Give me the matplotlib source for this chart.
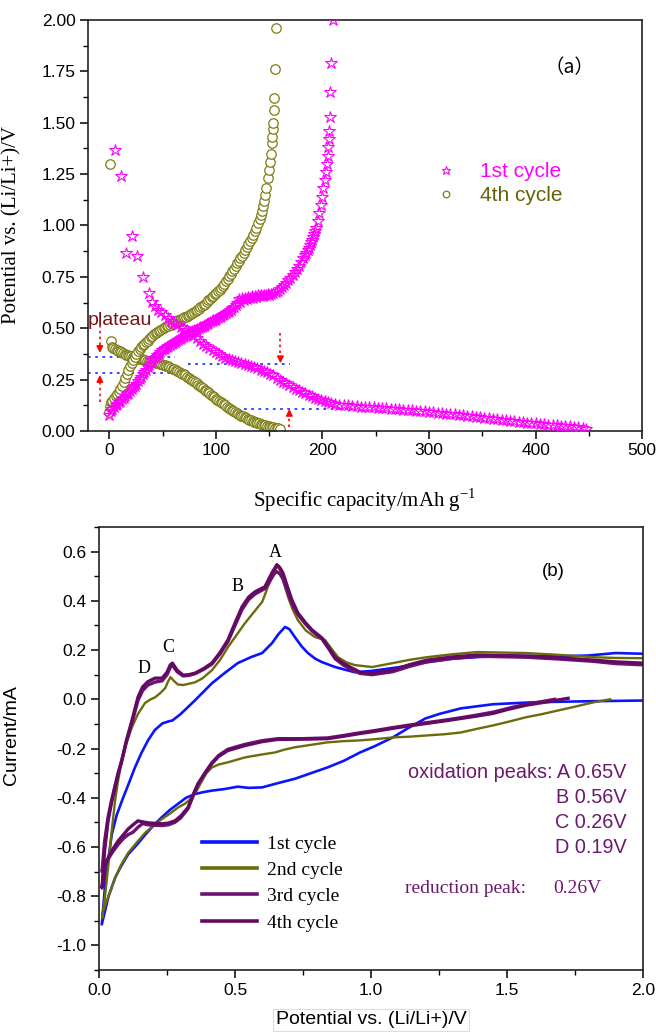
import numpy as np
import matplotlib
matplotlib.use("Agg")
import matplotlib.pyplot as plt
from matplotlib.ticker import MultipleLocator

plt.rcParams['font.family'] = ['Liberation Sans', 'DejaVu Sans']
SERIF = ['Liberation Serif', 'DejaVu Serif']

# ---------------- (a) charge/discharge profiles ----------------
cap1_dis = [5.6, 11, 16, 21.4, 26, 32, 37, 40, 43, 46, 49, 52, 55, 58, 61, 64, 67, 70, 73, 76,
            79, 82, 85, 88, 91, 94, 97, 100, 103, 106, 109, 112, 115, 118, 121, 124, 127, 130,
            133, 136, 139, 142, 145, 148, 151, 154, 157, 160, 163, 166, 169, 172, 175, 178, 181,
            184, 187, 190, 193, 196, 199, 202, 205, 208, 212, 216, 220, 224, 228, 232, 236, 240,
            244, 248, 252, 256, 260, 264, 268, 272, 276, 280, 284, 288, 292, 296, 300, 304, 308,
            312, 316, 320, 324, 328, 332, 336, 340, 344, 348, 352, 356, 360, 364, 368, 372, 376,
            380, 384, 388, 392, 396, 400, 404, 408, 412, 416, 420, 424, 428, 432, 436, 440, 444, 447]
v1_dis = [1.367, 1.24, 0.866, 0.95, 0.85, 0.75, 0.67, 0.63, 0.61, 0.59, 0.58, 0.565, 0.55, 0.535,
          0.525, 0.515, 0.505, 0.50, 0.49, 0.475, 0.46, 0.45, 0.44, 0.425, 0.415, 0.405, 0.395,
          0.385, 0.375, 0.365, 0.357, 0.35, 0.345, 0.34, 0.335, 0.33, 0.325, 0.32, 0.315, 0.31,
          0.305, 0.298, 0.29, 0.285, 0.278, 0.27, 0.26, 0.25, 0.24, 0.235, 0.225, 0.215, 0.205,
          0.198, 0.19, 0.183, 0.176, 0.168, 0.161, 0.155, 0.15, 0.145, 0.14, 0.135, 0.13, 0.128,
          0.126, 0.124, 0.122, 0.12, 0.119, 0.117, 0.116, 0.115, 0.113, 0.112, 0.11, 0.109, 0.108,
          0.106, 0.104, 0.103, 0.101, 0.099, 0.097, 0.095, 0.093, 0.091, 0.089, 0.087, 0.085,
          0.083, 0.081, 0.079, 0.077, 0.075, 0.073, 0.07, 0.067, 0.064, 0.061, 0.058, 0.056,
          0.053, 0.051, 0.049, 0.047, 0.045, 0.043, 0.041, 0.039, 0.037, 0.035, 0.033, 0.031,
          0.030, 0.028, 0.026, 0.024, 0.022, 0.02, 0.017, 0.014, 0.012]

cap1_chg = [0, 1.5, 3, 4.5, 6, 7.5, 9, 10.5, 12, 13.5, 15, 16.5, 18, 19.5, 21, 22.5, 24, 25.5, 27,
            28.5, 30, 31.5, 33, 34.5, 36, 37.5, 39, 40.5, 42, 43.5, 45, 46.5, 48, 49.5, 51, 52.5,
            54, 55.5, 57, 58.5, 60, 61.5, 63, 64.5, 66, 67.5, 69, 70.5, 72, 73.5, 75, 76.5, 78,
            79.5, 81, 82.5, 84, 85.5, 87, 88.5, 90, 91.5, 93, 94.5, 96, 97.5, 99, 100.5, 102,
            103.5, 105, 106.5, 108, 109.5, 111, 112.5, 114, 115.5, 117, 118.5, 120, 121.5, 123,
            124.5, 126, 127.5, 129, 130.5, 132, 133.5, 135, 136.5, 138, 139.5, 141, 142.5, 144,
            145.5, 147, 148.5, 150, 152, 154, 156, 158, 160, 162, 164, 166, 168, 170, 172, 174,
            176, 178, 180, 182, 184, 185, 186, 187, 188, 189, 190, 191, 192, 193, 194, 195.5, 197,
            198.5, 200, 201, 202, 203, 204, 205, 205.5, 206, 206.5, 207, 207.5, 208, 210]
v1_chg = [0.08, 0.095, 0.108, 0.118, 0.125, 0.132, 0.14, 0.147, 0.155, 0.162, 0.17, 0.178, 0.185,
          0.193, 0.202, 0.212, 0.22, 0.231, 0.242, 0.254, 0.265, 0.276, 0.288, 0.299, 0.31,
          0.321, 0.333, 0.344, 0.355, 0.362, 0.37, 0.377, 0.385, 0.392, 0.398, 0.403, 0.408,
          0.413, 0.418, 0.423, 0.428, 0.433, 0.438, 0.443, 0.448, 0.453, 0.458, 0.463, 0.468,
          0.473, 0.478, 0.483, 0.487, 0.489, 0.493, 0.498, 0.502, 0.504, 0.508, 0.513, 0.517,
          0.519, 0.523, 0.528, 0.533, 0.538, 0.541, 0.544, 0.549, 0.554, 0.558, 0.563, 0.568,
          0.573, 0.578, 0.583, 0.59, 0.598, 0.605, 0.615, 0.625, 0.64, 0.63, 0.645, 0.635, 0.648,
          0.64, 0.652, 0.645, 0.655, 0.648, 0.658, 0.652, 0.66, 0.655, 0.662, 0.658, 0.663,
          0.66, 0.665, 0.663, 0.667, 0.67, 0.676, 0.682, 0.69, 0.70, 0.71, 0.72, 0.733, 0.746,
          0.76, 0.773, 0.788, 0.805, 0.822, 0.84, 0.855, 0.868, 0.88, 0.892, 0.905, 0.918, 0.93,
          0.945, 0.96, 0.975, 0.99, 1.02, 1.06, 1.10, 1.14, 1.18, 1.22, 1.26, 1.30, 1.34, 1.38,
          1.42, 1.46, 1.53, 1.65, 1.79, 2.0]

cap4_dis = [1, 2, 3, 4, 5.5, 7, 8.5, 10, 11.5, 13, 14.5, 16, 17.5, 19, 20.5, 22, 23.5, 25, 26.5,
            28, 29.5, 31, 32.5, 34, 35.5, 37, 38.5, 40, 41.5, 43, 44.5, 46, 47.5, 49, 50.5, 52,
            53.5, 55, 56.5, 58, 59.5, 61, 62.5, 64, 65.5, 67, 68.5, 70, 71.5, 73, 74.5, 76, 77.5,
            79, 80.5, 82, 83.5, 85, 86.5, 88, 89.5, 91, 92.5, 94, 95.5, 97, 98.5, 100, 101.5, 103,
            104.5, 106, 107.5, 109, 110.5, 112, 113.5, 115, 116.5, 118, 119.5, 121, 122.5, 124,
            125.5, 127, 128.5, 130, 131.5, 133, 134.5, 136, 137.5, 139, 140.5, 142, 143.5, 145,
            146.5, 148, 149.5, 151, 152.5, 154, 155.5, 157, 158.5, 160]
v4_dis = [1.30, 0.44, 0.41, 0.403, 0.398, 0.395, 0.391, 0.388, 0.384, 0.38, 0.376, 0.372, 0.369,
          0.367, 0.364, 0.361, 0.359, 0.357, 0.355, 0.352, 0.35, 0.348, 0.346, 0.344, 0.342, 0.34,
          0.338, 0.337, 0.335, 0.334, 0.332, 0.33, 0.328, 0.325, 0.322, 0.32, 0.318, 0.315,
          0.311, 0.308, 0.304, 0.30, 0.295, 0.29, 0.286, 0.282, 0.279, 0.275, 0.27, 0.265, 0.26,
          0.255, 0.249, 0.243, 0.238, 0.232, 0.226, 0.22, 0.214, 0.208, 0.201, 0.195, 0.189,
          0.183, 0.177, 0.17, 0.164, 0.158, 0.152, 0.147, 0.141, 0.135, 0.13, 0.124, 0.118, 0.113,
          0.108, 0.103, 0.098, 0.094, 0.089, 0.085, 0.08, 0.075, 0.071, 0.067, 0.063, 0.059,
          0.055, 0.052, 0.049, 0.046, 0.043, 0.04, 0.037, 0.034, 0.031, 0.029, 0.027, 0.025,
          0.023, 0.021, 0.019, 0.018, 0.016, 0.015, 0.013, 0.012]

cap4_chg = [0, 1, 2, 3, 4.5, 6, 7.5, 9, 10.5, 12, 13.5, 15, 16.5, 18, 19.5, 21, 22.5, 24, 25.5, 27,
            28.5, 30, 31.5, 33, 34.5, 36, 37.5, 39, 40.5, 42, 43.5, 45, 46.5, 48, 49.5, 51, 52.5,
            54, 55.5, 57, 58.5, 60, 61.5, 63, 64.5, 66, 67.5, 69, 70.5, 72, 73.5, 75, 76.5, 78,
            79.5, 81, 82.5, 84, 85.5, 87, 88.5, 90, 91.5, 93, 94.5, 96, 97.5, 99, 100.5, 102,
            103.5, 105, 106.5, 108, 109.5, 111, 112.5, 114, 115.5, 117, 118.5, 120, 121.5, 123,
            124.5, 126, 127.5, 129, 130.5, 132, 133.5, 135, 136.5, 138, 139.5, 141, 142, 143, 144,
            145, 146, 147, 148.5, 149.5, 150.5, 151.5, 152.5, 153, 153.5, 154, 154.5, 155, 155.5,
            156]
v4_chg = [0.09, 0.12, 0.14, 0.148, 0.16, 0.17, 0.181, 0.192, 0.205, 0.22, 0.238, 0.257, 0.276,
          0.295, 0.314, 0.33, 0.345, 0.36, 0.375, 0.388, 0.399, 0.41, 0.418, 0.425, 0.433, 0.44,
          0.448, 0.455, 0.463, 0.47, 0.475, 0.48, 0.485, 0.49, 0.495, 0.50, 0.505, 0.51, 0.513,
          0.515, 0.52, 0.525, 0.53, 0.535, 0.538, 0.54, 0.545, 0.55, 0.553, 0.555, 0.56, 0.565,
          0.57, 0.575, 0.58, 0.585, 0.59, 0.595, 0.602, 0.61, 0.615, 0.62, 0.628, 0.635, 0.643,
          0.65, 0.658, 0.665, 0.673, 0.68, 0.688, 0.695, 0.705, 0.715, 0.728, 0.74, 0.753, 0.765,
          0.778, 0.79, 0.803, 0.815, 0.828, 0.84, 0.853, 0.865, 0.88, 0.895, 0.91, 0.925, 0.94,
          0.955, 0.972, 0.99, 1.01, 1.03, 1.05, 1.07, 1.095, 1.12, 1.15, 1.18, 1.23, 1.27, 1.31,
          1.35, 1.40, 1.43, 1.47, 1.50, 1.56, 1.62, 1.76, 1.96]

# plateau guide lines: y, x_start, x_end
guide_y = [0.36, 0.28, 0.326, 0.107]
guide_x0 = [-20, -20, 74, 126]
guide_x1 = [62, 62, 170, 220]
# red arrows: x, tail y, head y
arrow_x = [-8.8, -8.8, 160.6, 169]
arrow_tail = [0.515, 0.14, 0.477, 0.02]
arrow_head = [0.38, 0.272, 0.33, 0.107]

# ---------------- (b) cyclic voltammetry ----------------
cv1_v = [2.0, 1.8, 1.6, 1.45, 1.33, 1.25, 1.2, 1.14, 1.08, 1.015, 0.96, 0.9, 0.84, 0.78, 0.72, 0.66,
         0.6, 0.55, 0.51, 0.46, 0.415, 0.38, 0.353, 0.32, 0.29, 0.26, 0.23, 0.2, 0.17, 0.14, 0.107,
         0.08, 0.059, 0.035, 0.01,
         0.025, 0.047, 0.065, 0.085, 0.11, 0.132, 0.155, 0.18, 0.205, 0.233, 0.255, 0.27, 0.3,
         0.353, 0.415, 0.46, 0.51, 0.56, 0.6, 0.636, 0.66, 0.684, 0.70, 0.72, 0.745, 0.768, 0.795,
         0.82, 0.868, 0.94, 1.0, 1.1, 1.2, 1.3, 1.4, 1.5, 1.6, 1.7, 1.8, 1.9, 2.0]
cv1_i = [-0.005, -0.008, -0.012, -0.02, -0.037, -0.06, -0.078, -0.115, -0.155, -0.19, -0.216,
         -0.25, -0.277, -0.30, -0.323, -0.34, -0.358, -0.36, -0.355, -0.365, -0.371, -0.378,
         -0.385, -0.40, -0.425, -0.45, -0.48, -0.513, -0.55, -0.59, -0.63, -0.68, -0.725, -0.80,
         -0.915,
         -0.72, -0.548, -0.47, -0.41, -0.34, -0.277, -0.22, -0.167, -0.125, -0.098, -0.09, -0.086,
         -0.06, -0.004, 0.065, 0.105, 0.147, 0.172, 0.188, 0.228, 0.265, 0.294, 0.285, 0.253,
         0.215, 0.188, 0.165, 0.151, 0.131, 0.11, 0.115, 0.13, 0.15, 0.165, 0.172, 0.175, 0.176,
         0.175, 0.178, 0.188, 0.185]

cv2_v = [1.88, 1.82, 1.75, 1.69, 1.63, 1.57, 1.51, 1.45, 1.39, 1.33, 1.27, 1.205, 1.14, 1.08, 1.015,
         0.96, 0.9, 0.84, 0.78, 0.72, 0.68, 0.647, 0.6, 0.537, 0.474, 0.44, 0.415, 0.395, 0.379,
         0.36, 0.342, 0.315, 0.29, 0.26, 0.232, 0.2, 0.169, 0.14, 0.107, 0.08, 0.059, 0.035,
         0.015, 0.011,
         0.022, 0.033, 0.045, 0.059, 0.07, 0.084, 0.1, 0.121, 0.143, 0.169, 0.19, 0.206, 0.225,
         0.243, 0.255, 0.263, 0.275, 0.29, 0.31, 0.353, 0.38, 0.415, 0.445, 0.474, 0.505, 0.537,
         0.57, 0.6, 0.621, 0.64, 0.658, 0.675, 0.695, 0.71, 0.731, 0.76, 0.794, 0.831, 0.855,
         0.879, 0.91, 0.941, 1.004, 1.08, 1.14, 1.205, 1.3, 1.39, 1.48, 1.57, 1.7, 1.82, 1.9, 2.0]
cv2_i = [0.0, -0.012, -0.03, -0.045, -0.06, -0.073, -0.09, -0.106, -0.12, -0.135, -0.142, -0.147,
         -0.152, -0.155, -0.162, -0.167, -0.17, -0.175, -0.185, -0.195, -0.205, -0.216, -0.224,
         -0.236, -0.256, -0.265, -0.277, -0.30, -0.331, -0.37, -0.40, -0.425, -0.44, -0.465,
         -0.486, -0.513, -0.543, -0.58, -0.624, -0.675, -0.727, -0.80, -0.86, -0.89,
         -0.80, -0.686, -0.55, -0.412, -0.33, -0.249, -0.18, -0.113, -0.06, -0.015, 0.0, 0.008,
         0.025, 0.045, 0.075, 0.09, 0.075, 0.06, 0.058, 0.069, 0.085, 0.118, 0.16, 0.212, 0.26,
         0.31, 0.355, 0.396, 0.457, 0.51, 0.543, 0.49, 0.416, 0.37, 0.322, 0.28, 0.253, 0.241,
         0.205, 0.171, 0.15, 0.139, 0.131, 0.147, 0.16, 0.171, 0.183, 0.192, 0.19, 0.188, 0.18,
         0.171, 0.168, 0.167]

cv3_v = [1.676, 1.6, 1.53, 1.45, 1.39, 1.33, 1.27, 1.205, 1.14, 1.08, 1.015, 0.96, 0.9, 0.84, 0.75,
         0.658, 0.6, 0.537, 0.474, 0.44, 0.415, 0.39, 0.364, 0.345, 0.327, 0.3, 0.279, 0.255,
         0.232, 0.205, 0.18, 0.16, 0.143, 0.125, 0.107, 0.09, 0.07, 0.05, 0.033, 0.02, 0.011,
         0.02, 0.033, 0.046, 0.059, 0.07, 0.084, 0.1, 0.121, 0.143, 0.16, 0.18, 0.206, 0.232, 0.25,
         0.262, 0.27, 0.287, 0.309, 0.33, 0.353, 0.385, 0.415, 0.445, 0.474, 0.5, 0.526, 0.55,
         0.574, 0.61, 0.625, 0.636, 0.65, 0.665, 0.676, 0.692, 0.709, 0.731, 0.76, 0.783, 0.82,
         0.845, 0.868, 0.9, 0.93, 0.96, 1.004, 1.08, 1.14, 1.205, 1.3, 1.39, 1.48, 1.57, 1.7, 1.82,
         1.9, 2.0]
cv3_i = [0.0, -0.015, -0.03, -0.052, -0.064, -0.075, -0.085, -0.095, -0.105, -0.115, -0.127, -0.136,
         -0.147, -0.157, -0.16, -0.16, -0.168, -0.183, -0.203, -0.228, -0.258, -0.298, -0.345,
         -0.395, -0.445, -0.482, -0.50, -0.51, -0.513, -0.512, -0.51, -0.505, -0.52, -0.54, -0.55,
         -0.565, -0.59, -0.62, -0.65, -0.675, -0.70,
         -0.58, -0.48, -0.41, -0.35, -0.30, -0.245, -0.175, -0.095, -0.005, 0.035, 0.058, 0.07,
         0.075, 0.1, 0.13, 0.138, 0.112, 0.095, 0.097, 0.104, 0.122, 0.143, 0.185, 0.235, 0.3,
         0.365, 0.405, 0.428, 0.45, 0.475, 0.495, 0.52, 0.51, 0.49, 0.44, 0.39, 0.345, 0.305,
         0.278, 0.245, 0.205, 0.165, 0.138, 0.12, 0.105, 0.1, 0.112, 0.133, 0.152, 0.166, 0.175,
         0.173, 0.171, 0.163, 0.154, 0.145, 0.14]

cv4_v = [1.725, 1.65, 1.57, 1.5, 1.45, 1.39, 1.33, 1.27, 1.205, 1.14, 1.08, 1.015, 0.96, 0.9, 0.84,
         0.75, 0.658, 0.6, 0.537, 0.474, 0.44, 0.415, 0.39, 0.364, 0.345, 0.327, 0.3, 0.279, 0.255,
         0.232, 0.205, 0.18, 0.16, 0.143, 0.125, 0.107, 0.09, 0.07, 0.05, 0.033, 0.02, 0.011,
         0.02, 0.033, 0.046, 0.059, 0.07, 0.084, 0.1, 0.121, 0.143, 0.16, 0.18, 0.206, 0.232, 0.25,
         0.262, 0.27, 0.287, 0.309, 0.33, 0.353, 0.385, 0.415, 0.445, 0.474, 0.5, 0.526, 0.55,
         0.574, 0.61, 0.625, 0.636, 0.654, 0.665, 0.676, 0.692, 0.709, 0.731, 0.76, 0.783, 0.82,
         0.845, 0.868, 0.9, 0.93, 0.96, 1.004, 1.08, 1.14, 1.205, 1.3, 1.39, 1.48, 1.57, 1.7, 1.82,
         1.9, 2.0]
cv4_i = [0.004, -0.01, -0.024, -0.042, -0.057, -0.068, -0.078, -0.088, -0.098, -0.108, -0.118,
         -0.13, -0.139, -0.15, -0.16, -0.162, -0.163, -0.172, -0.188, -0.208, -0.232, -0.261,
         -0.30, -0.343, -0.39, -0.44, -0.475, -0.494, -0.503, -0.506, -0.504, -0.502, -0.498,
         -0.494, -0.51, -0.527, -0.55, -0.576, -0.61, -0.645, -0.69, -0.767,
         -0.62, -0.494, -0.42, -0.358, -0.305, -0.249, -0.17, -0.086, 0.008, 0.05, 0.072, 0.086,
         0.086, 0.11, 0.14, 0.147, 0.118, 0.098, 0.1, 0.106, 0.125, 0.147, 0.19, 0.241, 0.31,
         0.376, 0.415, 0.437, 0.457, 0.49, 0.514, 0.547, 0.535, 0.514, 0.46, 0.404, 0.351, 0.31,
         0.282, 0.249, 0.21, 0.171, 0.145, 0.127, 0.11, 0.106, 0.118, 0.14, 0.159, 0.172, 0.18,
         0.178, 0.176, 0.168, 0.159, 0.152, 0.147]

peak_labels = ['A', 'B', 'C', 'D']
peak_x = [0.647, 0.511, 0.254, 0.166]
peak_y = [0.596, 0.457, 0.212, 0.127]
ox_lines = ['oxidation peaks: A 0.65V', 'B 0.56V', 'C 0.26V', 'D 0.19V']

MAG = '#ff00ff'
OLIVE = '#7d7d12'
OLIVE_TXT = '#626208'
BLUE = '#0a14ff'
OLIVE_LN = '#6b6b0a'
PURP3 = '#6e1470'
PURP4 = '#640a64'
PURP_TXT = '#6a1a6a'

fig = plt.figure(figsize=(6.56, 10.35), dpi=100)
ax1 = fig.add_axes([0.134, 0.5836, 0.845, 0.3971])
ax2 = fig.add_axes([0.151, 0.0628, 0.829, 0.4280])

# ---- panel (a)
for gy, gx0, gx1 in zip(guide_y, guide_x0, guide_x1):
    ax1.plot([gx0, gx1], [gy, gy], ls=(0, (1.5, 2.5)), color='#2a3cff', lw=1.3, zorder=1)

ax1.plot(cap1_dis, v1_dis, ls='none', marker='*', ms=9, mfc='none', mec=MAG, mew=0.8,
         label='1st cycle', zorder=3)
ax1.plot(cap1_chg, v1_chg, ls='none', marker='*', ms=9, mfc='none', mec=MAG, mew=0.8, zorder=3)
ax1.plot(cap4_dis, v4_dis, ls='none', marker='o', ms=6.8, mfc='white', mec=OLIVE, mew=0.9,
         label='4th cycle', zorder=2)
ax1.plot(cap4_chg, v4_chg, ls='none', marker='o', ms=6.8, mfc='white', mec=OLIVE, mew=0.9, zorder=2)

for axx, yt, yh in zip(arrow_x, arrow_tail, arrow_head):
    d = -0.03 if yh < yt else 0.03
    ax1.plot([axx, axx], [yt, yh - d], ls=(0, (1.5, 2.0)), color='red', lw=1.2, zorder=4)
    ax1.annotate('', xy=(axx, yh), xytext=(axx, yh - d),
                 arrowprops=dict(arrowstyle='-|>', color='red', lw=1.0, mutation_scale=10,
                                 shrinkA=0, shrinkB=0), zorder=4)

ax1.text(-20, 0.54, 'plateau', color='#7a1414', fontsize=14, va='center', ha='left')
ax1.text(432, 1.77, '（a）', fontsize=14, ha='center', va='center',
         family=['Noto Sans CJK SC', 'DejaVu Sans'])

ax1.set_xlim(-20, 500)
ax1.set_ylim(0, 2.0)
ax1.xaxis.set_major_locator(MultipleLocator(100))
ax1.xaxis.set_minor_locator(MultipleLocator(50))
ax1.yaxis.set_major_locator(MultipleLocator(0.25))
ax1.yaxis.set_minor_locator(MultipleLocator(0.125))
ax1.set_yticks(np.arange(0, 2.01, 0.25))
ax1.set_yticklabels([f'{v:.2f}' for v in np.arange(0, 2.01, 0.25)])
ax1.set_xlabel('Specific capacity/mAh g$^{\\mathregular{-1}}$', family=SERIF, fontsize=15,
               labelpad=20)
ax1.set_ylabel('Potential vs. (Li/Li+)/V', family=SERIF, fontsize=15)
ax1.yaxis.set_label_coords(-0.12, 0.5)

leg1 = ax1.legend(loc='upper left', bbox_to_anchor=(0.59, 0.70), frameon=False, fontsize=15,
                  markerscale=0.7, handlelength=1.2, handletextpad=1.0, labelspacing=0.25,
                  labelcolor=[MAG, OLIVE_TXT])

# ---- panel (b)
ax2.plot(cv1_v, cv1_i, color=BLUE, lw=1.9, label='1st cycle')
ax2.plot(cv2_v, cv2_i, color=OLIVE_LN, lw=1.7, label='2nd cycle')
ax2.plot(cv3_v, cv3_i, color=PURP3, lw=2.4, label='3rd cycle')
ax2.plot(cv4_v, cv4_i, color=PURP4, lw=2.4, label='4th cycle')

for lab, px, py in zip(peak_labels, peak_x, peak_y):
    ax2.text(px, py, lab, family=SERIF, fontsize=13, ha='center', va='center')

ax2.text(1.67, 0.52, '(b)', fontsize=13.5, ha='center', va='center')
ax2.text(1.94, -0.298, ox_lines[0], color=PURP_TXT, fontsize=14.3, ha='right', va='center')
for k, line in enumerate(ox_lines[1:]):
    ax2.text(1.94, -0.400 - 0.102 * k, line, color=PURP_TXT, fontsize=14.3, ha='right',
             va='center')
ax2.text(1.125, -0.767, 'reduction peak:', color=PURP_TXT, family=SERIF, fontsize=14,
         ha='left', va='center')
ax2.text(1.669, -0.767, '0.26V', color=PURP_TXT, family=SERIF, fontsize=14, ha='left',
         va='center')

ax2.set_xlim(0, 2.0)
ax2.set_ylim(-1.1, 0.7)
ax2.xaxis.set_minor_locator(MultipleLocator(0.25))
ax2.yaxis.set_minor_locator(MultipleLocator(0.1))
yt2 = np.arange(-1.0, 0.61, 0.2)
ax2.set_yticks(yt2)
ax2.set_yticklabels([f'{round(v, 1) + 0.0:.1f}' for v in yt2])
xt2 = np.arange(0, 2.01, 0.5)
ax2.set_xticks(xt2)
ax2.set_xticklabels([f'{v:.1f}' for v in xt2])
ax2.set_xlabel('Potential vs. (Li/Li+)/V', fontsize=14, labelpad=10,
               bbox=dict(boxstyle='square,pad=0.12', fc='white', ec='#d8dcf0', lw=0.8))
ax2.set_ylabel('Current/mA', fontsize=14)
ax2.yaxis.set_label_coords(-0.145, 0.53)

leg2 = ax2.legend(loc='upper left', bbox_to_anchor=(0.19, 0.305), frameon=False, prop=dict(
    family=SERIF, size=14), handlelength=2.8, handletextpad=0.5, labelspacing=0.45,
    borderpad=0, borderaxespad=0)
for ln in leg2.get_lines():
    ln.set_linewidth(2.6)

for ax in (ax1, ax2):
    for s in ax.spines.values():
        s.set_linewidth(1.2)
        s.set_color('#222222')
    ax.tick_params(which='major', direction='out', length=6, width=1.1, labelsize=12.5, pad=3,
                   top=False, right=False)
    ax.tick_params(which='minor', direction='out', length=3.5, width=1.0, top=False, right=False)

fig.savefig('out.png', dpi=100)
